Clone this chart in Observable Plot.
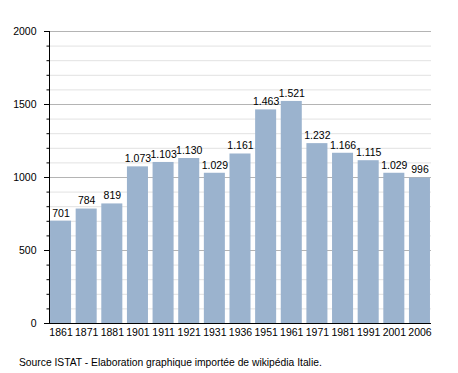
<!DOCTYPE html>
<html><head><meta charset="utf-8">
<script src="https://cdn.jsdelivr.net/npm/d3@7"></script>
<script src="https://cdn.jsdelivr.net/npm/@observablehq/plot@0.6"></script>
<style>
body{margin:0;background:#fff;font-family:"Liberation Sans",Arial,sans-serif;}
#wrap{position:relative;width:458px;height:373px;}
#cap{position:absolute;left:19px;top:357px;font-size:10.3px;color:#000;white-space:nowrap;}
</style></head><body>
<div id="wrap"><div id="chart"></div><div id="cap">Source ISTAT - Elaboration graphique importée de wikipédia Italie.</div></div>
<script>
const years = ["1861","1871","1881","1901","1911","1921","1931","1936","1951","1961","1971","1981","1991","2001","2006"];
const population = [701,784,819,1073,1103,1130,1029,1161,1463,1521,1232,1166,1115,1029,996];
const majorTicks = [0,500,1000,1500,2000];
const minorTicks = d3.range(0,2001,100).filter(v => v % 500 !== 0);

const data = years.map((y,i) => ({year:y, value:population[i]}));
const fmt = v => v >= 1000 ? Math.floor(v/1000) + "." + String(v%1000).padStart(3,"0") : String(v);

const chart = Plot.plot({
  width:458, height:345,
  marginTop:31, marginBottom:22, marginLeft:49, marginRight:27,
  style:{fontFamily:"'Liberation Sans', Arial, sans-serif", fontSize:"10.5px", color:"#000", background:"#fff"},
  x:{domain:years, paddingInner:0.18, paddingOuter:0.04, round:false, label:null},
  y:{domain:[0,2000], label:null},
  marks:[
    Plot.ruleY(minorTicks,{stroke:"#e2e2e2", strokeWidth:1}),
    Plot.ruleY(majorTicks,{stroke:"#b4b4b4", strokeWidth:1}),
    Plot.barY(data,{x:"year", y:"value", fill:"#9bb3ce"}),
    Plot.text(data,{x:"year", y:"value", text:d=>fmt(d.value), dy:-8, fill:"#000", fontSize:10.5}),
    Plot.axisY(majorTicks,{tickSize:5, tickPadding:8, stroke:"#000", fontSize:10.5, tickFormat:d=>String(d), label:null}),
    Plot.axisY(minorTicks,{tickSize:2.5, text:null, stroke:"#000", label:null}),
    Plot.axisX({tickSize:0, tickPadding:5, fontSize:10.5, label:null}),
    Plot.ruleY([0],{stroke:"#000"}),
    Plot.frame({anchor:"left", stroke:"#000"})
  ]
});
document.getElementById("chart").appendChild(chart);
</script></body></html>
